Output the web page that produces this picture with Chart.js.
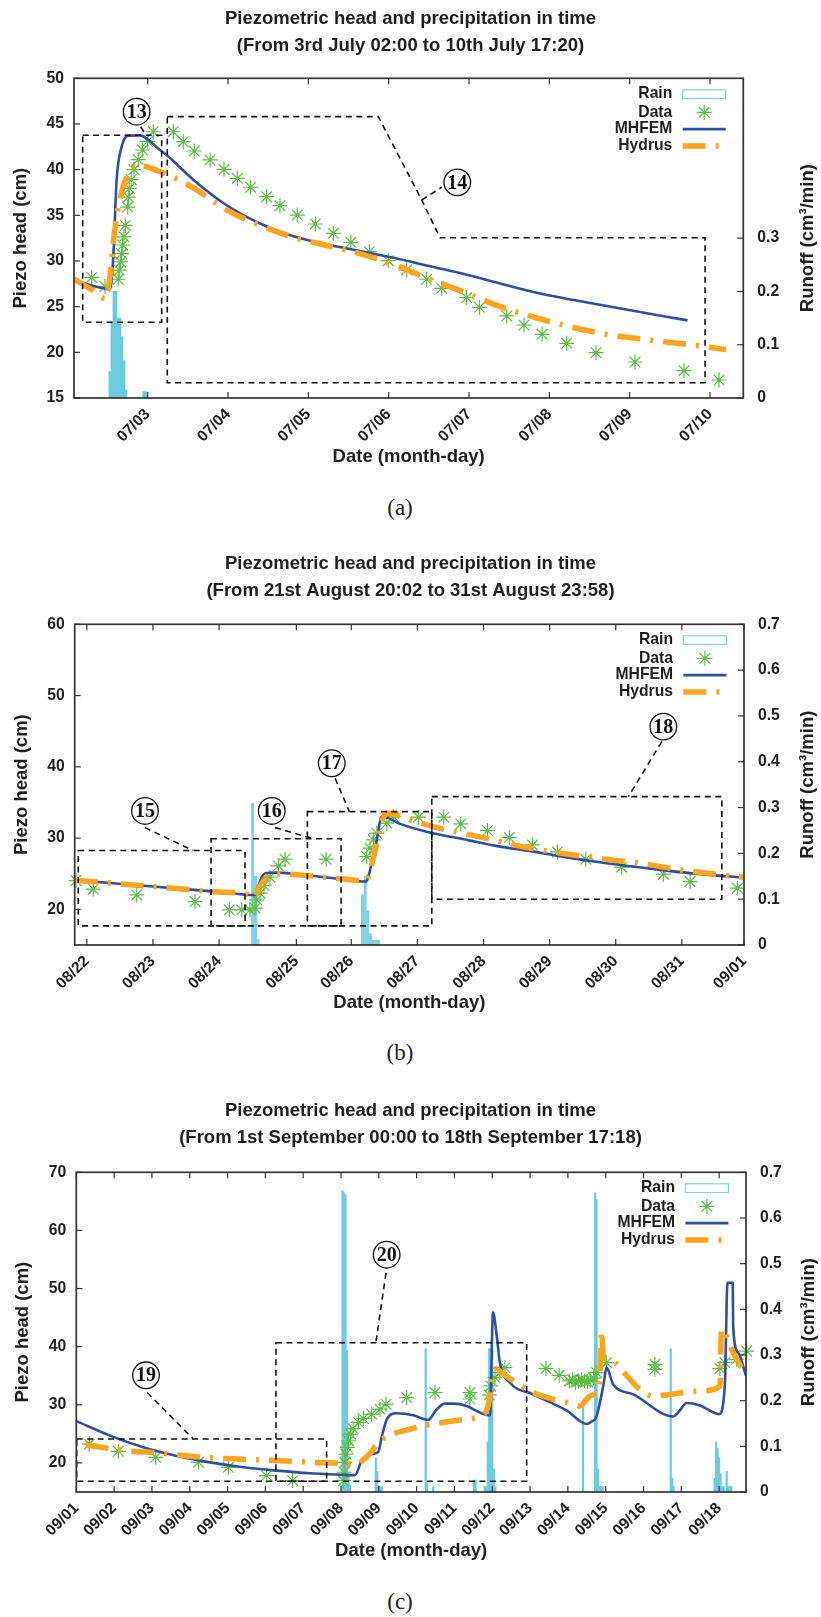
<!DOCTYPE html>
<html>
<head>
<meta charset="utf-8">
<title>Piezometric head and precipitation in time</title>
<script src="https://cdn.jsdelivr.net/npm/chart.js@4.4.1/dist/chart.umd.min.js"></script>
<style>
html,body{margin:0;padding:0;background:#fff;}
body{position:relative;width:821px;height:1617px;overflow:hidden;}
canvas{position:absolute;left:0;}
.cap{position:absolute;left:0;width:800px;text-align:center;font-family:"Liberation Serif","Times New Roman",serif;font-size:23px;line-height:24px;color:#222;}
</style>
</head>
<body>
<canvas id="chartA"></canvas>
<div class="cap" style="top:496px">(a)</div>
<canvas id="chartB"></canvas>
<div class="cap" style="top:1041px">(b)</div>
<canvas id="chartC"></canvas>
<div class="cap" style="top:1590px">(c)</div>
<script>
// ---------------- DATA (x in days, y in cm / cm3 per min) ----------------
// Panel (a): x = days from 07/03 00:00
const titleA = ['Piezometric head and precipitation in time', '(From 3rd July 02:00 to 10th July 17:20)'];
const xTicksA = [0, 1, 2, 3, 4, 5, 6, 7];
const xLabelsA = ['07/03', '07/04', '07/05', '07/06', '07/07', '07/08', '07/09', '07/10'];
const yTicksA = [15, 20, 25, 30, 35, 40, 45, 50];
const y2TicksA = [0, 0.1, 0.2, 0.3];
const rainA_x = [-0.47, -0.445, -0.42, -0.395, -0.37, -0.345, -0.32, -0.295, -0.27, -0.05, -0.025];
const rainA_y = [0.05, 0.14, 0.2, 0.2, 0.15, 0.15, 0.115, 0.07, 0.015, 0.012, 0.012];
const dataA = [[-0.697,28.2],[-0.532,27.2],[-0.366,28.0],[-0.353,29.0],[-0.336,29.9],[-0.324,30.8],[-0.311,31.75],[-0.295,32.65],[-0.279,33.9],[-0.249,35.9],[-0.241,37.0],[-0.229,37.95],[-0.204,38.9],[-0.171,40.0],[-0.117,41.1],[-0.062,42.15],[0.0,43.1],[0.07,44.15],[0.319,44.15],[0.443,43.06],[0.58,42.04],[0.776,41.06],[0.95,40.04],[1.116,39.05],[1.282,38.07],[1.48,37.04],[1.647,36.05],[1.862,35.03],[2.087,34.05],[2.311,33.03],[2.53,32.04],[2.759,31.02],[2.995,30.03],[3.224,29.01],[3.473,28.0],[3.66,27.0],[3.97,26.0],[4.13,24.93],[4.47,23.98],[4.684,22.99],[4.91,21.97],[5.216,20.99],[5.581,19.96],[6.066,18.94],[6.676,17.99],[7.112,16.97]];
const mhfemA = [[-0.916,28.0],[-0.75,27.45],[-0.6,27.1],[-0.468,26.9],[-0.428,30.5],[-0.386,38.9],[-0.324,42.5],[-0.25,43.7],[-0.1,43.75],[0.153,42.15],[0.236,41.6],[0.568,38.9],[0.983,36.1],[1.398,34.1],[1.813,32.7],[2.23,31.8],[2.64,31.1],[3.06,30.35],[3.5,29.45],[3.97,28.5],[4.8,26.6],[5.63,25.2],[6.46,23.9],[6.72,23.5]];
const hydrusA = [[-0.916,28.0],[-0.7,26.9],[-0.53,25.9],[-0.47,28.3],[-0.41,33.4],[-0.34,37.0],[-0.26,39.2],[-0.14,40.5],[0.15,39.8],[0.57,38.0],[0.98,35.6],[1.40,33.9],[1.81,32.6],[2.23,31.7],[2.64,30.8],[3.06,29.6],[3.6,27.7],[3.76,27.2],[4.39,25.0],[5.01,23.35],[5.63,22.1],[6.25,21.35],[6.87,20.7],[7.2,20.3]];

// Panel (b): x = days from 08/22 00:00
const titleB = ['Piezometric head and precipitation in time', '(From 21st August 20:02 to 31st August 23:58)'];
const xTicksB = [0, 1, 2, 3.17, 4, 5, 6, 7, 8, 9, 9.94];
const xLabelsB = ['08/22', '08/23', '08/24', '08/25', '08/26', '08/27', '08/28', '08/29', '08/30', '08/31', '09/01'];
const yTicksB = [20, 30, 40, 50, 60];
const y2TicksB = [0, 0.1, 0.2, 0.3, 0.4, 0.5, 0.6, 0.7];
const rainB_x = [2.51, 2.55, 2.59, 4.17, 4.21, 4.25, 4.29, 4.33, 4.37, 4.41];
const rainB_y = [0.31, 0.15, 0.012, 0.11, 0.15, 0.075, 0.025, 0.01, 0.01, 0.01];
const dataB = [[-0.163,24.04],[0.098,22.83],[0.755,22.03],[1.637,21.1],[2.156,19.93],[2.343,19.93],[2.469,19.93],[2.545,20.17],[2.57,21.33],[2.62,22.27],[2.68,23.34],[2.77,24.52],[2.897,26.1],[2.998,27.04],[3.619,27.04],[4.234,27.4],[4.284,28.58],[4.335,29.75],[4.386,30.69],[4.537,32.1],[4.637,33.0],[5.015,32.93],[5.4,32.93],[5.657,31.99],[6.06,31.05],[6.39,30.07],[6.74,29.04],[7.118,28.06],[7.548,27.04],[8.09,25.92],[8.72,24.94],[9.125,23.9],[9.84,22.97]];
const mhfemB = [[-0.18,24.1],[1.0,23.2],[2.0,22.45],[2.545,22.0],[2.6,23.4],[2.65,24.6],[2.72,25.1],[2.85,25.15],[3.12,25.0],[3.83,24.25],[4.22,23.9],[4.31,26.5],[4.386,29.75],[4.46,33.0],[4.56,32.8],[4.74,32.0],[5.14,30.9],[5.75,29.75],[6.25,28.8],[6.76,28.1],[7.26,27.3],[7.76,26.6],[8.27,26.0],[8.77,25.44],[9.28,24.94],[9.94,24.45]];
const hydrusB = [[-0.18,24.1],[1.0,23.2],[2.0,22.45],[2.43,22.1],[2.52,21.6],[2.62,23.2],[2.72,24.6],[2.8,25.0],[3.12,24.9],[3.83,24.3],[4.22,24.0],[4.34,27.4],[4.44,31.6],[4.49,33.0],[4.56,33.5],[4.8,32.8],[5.24,31.6],[5.57,30.9],[6.15,29.75],[6.45,29.05],[7.03,28.1],[7.36,27.64],[7.94,26.94],[8.27,26.62],[8.82,25.78],[9.18,25.3],[9.73,24.7],[9.94,24.5]];

// Panel (c): x = days from 09/01 00:00
const titleC = ['Piezometric head and precipitation in time', '(From 1st September 00:00 to 18th September 17:18)'];
const xTicksC = [0, 1, 2, 3, 4, 5, 6, 7, 8, 9, 10, 11, 12, 13, 14, 15, 16, 17];
const xLabelsC = ['09/01','09/02','09/03','09/04','09/05','09/06','09/07','09/08','09/09','09/10','09/11','09/12','09/13','09/14','09/15','09/16','09/17','09/18'];
const yTicksC = [20, 30, 40, 50, 60, 70];
const y2TicksC = [0, 0.1, 0.2, 0.3, 0.4, 0.5, 0.6, 0.7];
const rainC_x = [7.04,7.08,7.12,7.16,7.2,7.24, 7.92,7.96,8.0,8.04,8.08, 9.24,9.28,9.44, 10.52,10.56, 10.8,10.84,10.88,10.92,10.96,11.0,11.04,11.08, 13.4, 13.72,13.76,13.8,13.84,13.88,13.92, 15.72,15.76,15.8, 16.88,16.92,16.96,17.0,17.04,17.08,17.12,17.2,17.24,17.28,17.32];
const rainC_y = [0.66,0.655,0.65,0.31,0.04,0.015, 0.075,0.045,0.012,0.012,0.012, 0.314,0.02,0.012, 0.026,0.026, 0.012,0.012,0.11,0.314,0.314,0.31,0.05,0.012, 0.187, 0.655,0.64,0.05,0.012,0.012,0.012, 0.314,0.03,0.012, 0.03,0.11,0.095,0.075,0.04,0.012,0.012,0.046,0.012,0.012,0.012];
const dataC = [[0.345,23.25],[1.11,22.0],[2.1,20.97],[3.23,20.11],[4.02,19.25],[5.03,17.82],[5.72,16.96],[7.06,16.96],[7.08,18.4],[7.105,20.11],[7.13,21.53],[7.166,22.68],[7.2,23.82],[7.256,24.96],[7.32,25.9],[7.46,26.97],[7.59,27.65],[7.81,28.39],[8.03,29.25],[8.19,30.11],[8.736,31.25],[9.485,32.11],[10.41,31.0],[10.41,32.1],[10.92,31.7],[10.96,33.25],[11.07,34.68],[11.2,35.54],[11.335,36.4],[12.42,36.23],[12.77,35.08],[13.04,34.1],[13.12,34.3],[13.2,33.9],[13.28,34.1],[13.36,34.3],[13.44,34.1],[13.52,34.0],[13.6,34.2],[13.68,34.6],[13.76,35.54],[14.02,37.25],[15.3,36.97],[15.3,36.11],[17.02,36.23],[17.15,37.25],[17.46,37.82],[17.73,39.25]];
const mhfemC = [[0,27.2],[0.89,24.7],[1.77,22.7],[2.66,21.2],[3.54,20.1],[4.42,19.25],[5.3,18.67],[6.18,18.22],[7.0,17.98],[7.37,17.9],[7.55,20.4],[7.77,21.5],[7.985,21.9],[8.075,24.4],[8.21,27.5],[8.47,28.56],[8.91,28.22],[9.3,27.4],[9.53,29.2],[9.75,30.2],[10.0,30.2],[10.32,29.8],[10.7,28.6],[10.94,28.2],[11.02,45.9],[11.12,41.8],[11.2,37.3],[11.47,33.8],[12.08,31.8],[12.97,29.0],[13.5,26.7],[13.6,27.0],[13.76,28.1],[13.95,33.8],[14.02,36.4],[14.2,33.5],[14.73,31.8],[15.79,28.0],[15.92,28.7],[16.14,30.3],[16.49,29.9],[17.0,28.4],[17.15,33.4],[17.22,51.0],[17.36,51.0],[17.37,43.5],[17.5,39.0],[17.71,35.0]];
const hydrusC = [[0.25,23.1],[1.33,22.1],[2.21,21.7],[3.27,21.0],[4.15,20.7],[5.3,20.4],[6.27,20.1],[7.24,19.8],[7.4,19.6],[7.55,20.3],[7.75,21.5],[8.0,23.6],[8.38,25.0],[8.82,25.8],[9.27,26.5],[10.15,27.4],[10.67,28.1],[10.89,29.8],[10.98,33.8],[11.1,36.2],[11.25,35.5],[11.56,34.1],[12.08,32.1],[12.97,30.4],[13.32,29.8],[13.58,31.5],[13.85,34.4],[13.89,42.7],[13.935,38.4],[14.02,38.1],[14.9,32.7],[15.26,31.5],[15.61,31.7],[16.49,32.4],[17.02,33.2],[17.06,43.0],[17.37,39.0],[17.71,35.0]];

// Annotation call-outs (in data units of each panel)
const annotA = [
  {box: [-0.809, 0.174, 23.29, 43.76]},
  {path: [[-0.087, 44.7], [-0.02, 43.76]]},
  {circle: [-0.137, 46.34], text: '13'},
  {path: [[0.244,45.8],[2.871,45.8],[3.411,36.68],[3.639,32.55],[6.938,32.55],[6.938,16.67],[0.244,16.67]], closed: true},
  {path: [[3.411, 36.68], [3.66, 38.07]]},
  {circle: [3.854, 38.61], text: '14'}
];
const annotB = [
  {box: [-0.129, 2.393, 17.69, 28.25]},
  {path: [[0.88, 31.47], [1.61, 28.25]]},
  {circle: [0.88, 33.81], text: '15'},
  {box: [1.879, 3.846, 17.69, 29.9]},
  {path: [[2.847, 31.47], [3.427, 29.9]]},
  {circle: [2.797, 33.81], text: '16'},
  {box: [3.336, 5.218, 17.69, 33.72]},
  {path: [[3.755, 38.4], [3.971, 33.72]]},
  {circle: [3.705, 40.5], text: '17'},
  {box: [5.218, 9.605, 21.43, 35.82]},
  {path: [[8.697, 43.54], [8.19, 35.82]]},
  {circle: [8.72, 45.64], text: '18'}
];
const annotC = [
  {box: [0.01, 6.62, 16.85, 24.11]},
  {path: [[1.877, 32.11], [3.094, 24.11]]},
  {circle: [1.843, 35.08], text: '19'},
  {box: [5.28, 11.91, 16.85, 40.68]},
  {path: [[8.19, 52.69], [7.924, 40.79]]},
  {circle: [8.207, 55.82], text: '20'}
];

// ---------------- STYLE / LAYOUT ----------------
const FONT = '"Liberation Sans", Arial, Helvetica, sans-serif';
const INK = '#1e1e1e';
const C = {rain: '#6ccbdc', rainEdge: '#7fd2e3', data: '#5fbd48', mhfem: '#2f4ea5', hydrus: '#ffa41b', frame: '#333'};
const HYDRUS_DASH = [23, 10, 3, 10];
const TITLE_SIZE = 18.5, TICK_SIZE = 15.7;

const layoutA = {top: 0, line1: 19.3, plotTop: 78.3, plotBottom: 398, plotLeft: 74, plotRight: 743.3, date: 456.7, lTitleX: 21, rTitleX: 808};
const layoutB = {top: 540, line1: 564, plotTop: 624.3, plotBottom: 945, plotLeft: 74.7, plotRight: 744, date: 1003, lTitleX: 22, rTitleX: 808};
const layoutC = {top: 1080, line1: 1110.8, plotTop: 1172.3, plotBottom: 1492, plotLeft: 76.3, plotRight: 746, date: 1551, lTitleX: 23, rTitleX: 809};

const pts = arr => arr.map(p => ({x: p[0], y: p[1]}));
const zip = (xs, ys) => xs.map((x, i) => ({x: x, y: ys[i]}));

function makeDeco(L, annots) {
  return {
    id: 'deco',
    afterDatasetsDraw(chart) {
      const {ctx, scales} = chart;
      const X = v => scales.x.getPixelForValue(v);
      const Y = v => scales.y.getPixelForValue(v);
      ctx.save();
      ctx.strokeStyle = '#111';
      ctx.lineWidth = 1.6;
      ctx.setLineDash([6, 4.5]);
      annots.forEach(s => {
        if (s.box) {
          const [x0, x1, y0, y1] = s.box;
          ctx.beginPath();
          ctx.rect(X(x0), Y(y1), X(x1) - X(x0), Y(y0) - Y(y1));
          ctx.stroke();
        }
        if (s.path) {
          ctx.beginPath();
          s.path.forEach((p, i) => i ? ctx.lineTo(X(p[0]), Y(p[1])) : ctx.moveTo(X(p[0]), Y(p[1])));
          if (s.closed) ctx.closePath();
          ctx.stroke();
        }
      });
      ctx.setLineDash([]);
      annots.forEach(s => {
        if (s.circle) {
          const cx = X(s.circle[0]), cy = Y(s.circle[1]);
          ctx.beginPath();
          ctx.arc(cx, cy, 13.3, 0, Math.PI * 2);
          ctx.fillStyle = '#fff';
          ctx.fill();
          ctx.lineWidth = 1.3;
          ctx.strokeStyle = '#111';
          ctx.stroke();
          ctx.fillStyle = '#111';
          ctx.font = 'bold 20px "Liberation Serif", "Times New Roman", serif';
          ctx.textAlign = 'center';
          ctx.textBaseline = 'middle';
          ctx.fillText(s.text, cx, cy + 1);
        }
      });
      ctx.restore();
    },
    afterDraw(chart) {
      const {ctx, chartArea: a, scales} = chart;
      ctx.save();
      // inward tick marks (gnuplot style, mirrored x ticks on top)
      ctx.strokeStyle = C.frame;
      ctx.lineWidth = 1.2;
      const seg = (x0, y0, x1, y1) => { ctx.beginPath(); ctx.moveTo(x0, y0); ctx.lineTo(x1, y1); ctx.stroke(); };
      scales.x.ticks.forEach(t => { const px = scales.x.getPixelForValue(t.value); seg(px, a.bottom, px, a.bottom - 6); seg(px, a.top, px, a.top + 6); });
      scales.y.ticks.forEach(t => { const py = scales.y.getPixelForValue(t.value); seg(a.left, py, a.left + 6, py); });
      scales.y2.ticks.forEach(t => { const py = scales.y2.getPixelForValue(t.value); seg(a.right, py, a.right - 6, py); });
      // frame
      ctx.lineWidth = 1.7;
      ctx.strokeRect(a.left, a.top, a.right - a.left, a.bottom - a.top);
      // right axis title (reads bottom-to-top)
      ctx.save();
      ctx.translate(L.rTitleX, (a.top + a.bottom) / 2);
      ctx.rotate(-Math.PI / 2);
      ctx.font = 'bold ' + TITLE_SIZE + 'px ' + FONT;
      ctx.fillStyle = INK;
      ctx.textAlign = 'center';
      ctx.textBaseline = 'middle';
      ctx.fillText('Runoff (cm\u00B3/min)', 0, 0);
      ctx.restore();
      // legend (text left of sample, inside top-right)
      const rows = [15.8, 34, 50.8, 67.7];
      const tx = a.right - 71, s0 = a.right - 60.6, s1 = a.right - 17.6;
      const byLabel = {};
      chart.data.datasets.forEach(d => { byLabel[d.label] = d; });
      ['Rain', 'Data', 'MHFEM', 'Hydrus'].forEach((lab, i) => {
        const y = a.top + rows[i];
        ctx.font = 'bold ' + TICK_SIZE + 'px ' + FONT;
        ctx.fillStyle = INK;
        ctx.textAlign = 'right';
        ctx.textBaseline = 'middle';
        ctx.fillText(lab, tx, y);
        const d = byLabel[lab];
        ctx.setLineDash([]);
        if (lab === 'Rain') {
          ctx.strokeStyle = C.rainEdge; ctx.lineWidth = 1.2;
          ctx.strokeRect(s0, y - 4.3, s1 - s0, 8.7);
        } else if (lab === 'Data') {
          ctx.strokeStyle = d.borderColor; ctx.fillStyle = d.borderColor; ctx.lineWidth = d.pointBorderWidth;
          Chart.helpers.drawPoint(ctx, {pointStyle: 'star', radius: d.pointRadius, borderWidth: d.pointBorderWidth, rotation: 0}, (s0 + s1) / 2, y);
        } else {
          ctx.strokeStyle = d.borderColor; ctx.lineWidth = d.borderWidth; ctx.lineCap = 'butt';
          if (d.borderDash) ctx.setLineDash(d.borderDash);
          seg(s0, y, s1, y);
        }
      });
      ctx.restore();
    }
  };
}

function buildPanel(id, L, D) {
  const cv = document.getElementById(id);
  const H = Math.ceil(L.date + 12 - L.top);
  cv.width = 821; cv.height = H;
  cv.style.width = '821px'; cv.style.height = H + 'px'; cv.style.top = L.top + 'px';
  const lh = 27;
  const axLh = TITLE_SIZE * 1.2;
  const tPadTop = L.line1 - L.top - lh / 2;
  const tPadBot = (L.plotTop - L.top) - tPadTop - 2 * lh;
  const xH = L.date + axLh / 2 - L.plotBottom;
  const padBottom = H - (L.date + axLh / 2 - L.top);
  const tickFont = {family: FONT, size: TICK_SIZE, weight: 'bold'};
  const axTitleFont = {family: FONT, size: TITLE_SIZE, weight: 'bold', lineHeight: 1.2};
  return new Chart(cv, {
    type: 'line',
    data: {
      datasets: [
        {type: 'line', label: 'Hydrus', data: pts(D.hydrus), yAxisID: 'y', order: 1,
         borderColor: C.hydrus, backgroundColor: C.hydrus, borderWidth: 5.5, borderDash: HYDRUS_DASH, borderCapStyle: 'butt',
         pointRadius: 0, fill: false, cubicInterpolationMode: 'monotone'},
        {type: 'line', label: 'MHFEM', data: pts(D.mhfem), yAxisID: 'y', order: 2,
         borderColor: C.mhfem, backgroundColor: C.mhfem, borderWidth: 2.6,
         pointRadius: 0, fill: false, cubicInterpolationMode: 'monotone'},
        {type: 'line', label: 'Data', data: pts(D.data), yAxisID: 'y', order: 3, showLine: false, clip: false,
         borderColor: C.data, backgroundColor: C.data, pointStyle: 'star', pointRadius: 7.5, pointBorderWidth: 1.2,
         pointBorderColor: C.data, pointBackgroundColor: C.data},
        {type: 'bar', label: 'Rain', data: zip(D.rainX, D.rainY), yAxisID: 'y2', order: 4,
         backgroundColor: D.hollow ? 'rgba(255,255,255,0)' : C.rain,
         borderColor: D.hollow ? C.rainEdge : C.rain, borderWidth: D.hollow ? 1 : 0, borderSkipped: false,
         barPercentage: 1, categoryPercentage: 1}
      ]
    },
    options: {
      responsive: false, animation: false, devicePixelRatio: 1, events: [],
      layout: {padding: {top: 0, left: 0, right: 0, bottom: padBottom}},
      plugins: {
        legend: {display: false}, tooltip: {enabled: false},
        title: {display: true, text: D.title, color: INK,
                font: {family: FONT, size: TITLE_SIZE, weight: 'bold', lineHeight: lh / TITLE_SIZE},
                padding: {top: tPadTop, bottom: tPadBot}}
      },
      scales: {
        x: {
          type: 'linear', position: 'bottom', min: D.xMin, max: D.xMax, offset: false,
          grid: {display: false, drawTicks: false}, border: {display: false},
          afterBuildTicks: s => { s.ticks = D.xTicks.map(v => ({value: v})); },
          ticks: {autoSkip: false, minRotation: 45, maxRotation: 45, padding: 7, color: INK, font: tickFont,
                  callback: (v, i) => D.xLabels[i]},
          title: {display: true, text: 'Date (month-day)', color: INK, font: axTitleFont, padding: {top: 0, bottom: 0}},
          afterFit: s => { s.height = xH; }
        },
        y: {
          type: 'linear', position: 'left', min: D.yMin, max: D.yMax,
          grid: {display: false, drawTicks: false}, border: {display: false},
          afterBuildTicks: s => { s.ticks = D.yTicks.map(v => ({value: v})); },
          ticks: {padding: 10, color: INK, font: tickFont},
          title: {display: true, text: 'Piezo head (cm)', color: INK, font: axTitleFont, padding: {top: L.lTitleX - axLh / 2, bottom: 0}},
          afterFit: s => { s.width = L.plotLeft; }
        },
        y2: {
          type: 'linear', position: 'right', min: 0, max: D.y2Max,
          grid: {display: false, drawTicks: false}, border: {display: false},
          afterBuildTicks: s => { s.ticks = D.y2Ticks.map(v => ({value: v})); },
          ticks: {padding: 14, color: INK, font: tickFont, callback: v => (v === 0 ? '0' : v.toFixed(1))},
          afterFit: s => { s.width = 821 - L.plotRight; }
        }
      }
    },
    plugins: [makeDeco(L, D.annots)]
  });
}

buildPanel('chartA', layoutA, {
  title: titleA, xMin: -0.917, xMax: 7.414, xTicks: xTicksA, xLabels: xLabelsA,
  yMin: 15, yMax: 50, yTicks: yTicksA, y2Max: 0.6, y2Ticks: y2TicksA,
  rainX: rainA_x, rainY: rainA_y, hollow: false,
  data: dataA, mhfem: mhfemA, hydrus: hydrusA, annots: annotA
});
buildPanel('chartB', layoutB, {
  title: titleB, xMin: -0.183, xMax: 9.94, xTicks: xTicksB, xLabels: xLabelsB,
  yMin: 15, yMax: 60, yTicks: yTicksB, y2Max: 0.7, y2Ticks: y2TicksB,
  rainX: rainB_x, rainY: rainB_y, hollow: true,
  data: dataB, mhfem: mhfemB, hydrus: hydrusB, annots: annotB
});
buildPanel('chartC', layoutC, {
  title: titleC, xMin: 0, xMax: 17.71, xTicks: xTicksC, xLabels: xLabelsC,
  yMin: 15, yMax: 70, yTicks: yTicksC, y2Max: 0.7, y2Ticks: y2TicksC,
  rainX: rainC_x, rainY: rainC_y, hollow: false,
  data: dataC, mhfem: mhfemC, hydrus: hydrusC, annots: annotC
});
</script>
</body>
</html>
